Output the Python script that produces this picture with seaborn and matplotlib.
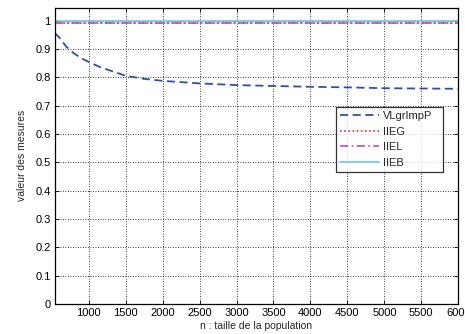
import matplotlib
matplotlib.use("Agg")
import matplotlib.pyplot as plt
import seaborn as sns
import numpy as np

# Data
n_values = [540, 600, 700, 800, 900, 1000, 1150, 1250, 1500, 1750, 2000, 2500,
            3000, 3500, 4000, 4500, 5000, 5500, 6000]
vlgrimpp = [0.957, 0.942, 0.908, 0.885, 0.868, 0.855, 0.837, 0.828, 0.806, 0.795,
            0.788, 0.779, 0.773, 0.770, 0.767, 0.765, 0.762, 0.761, 0.760]
iieg = [0.992] * len(n_values)
iiel = [0.992] * len(n_values)
iieb = [1.0] * len(n_values)

x_ticks = list(range(1000, 6001, 500))
y_ticks = [round(0.1 * i, 1) for i in range(11)]
y_tick_labels = ["0", "0.1", "0.2", "0.3", "0.4", "0.5", "0.6", "0.7", "0.8", "0.9", "1"]

sns.set_style("white")
plt.rcParams['font.family'] = ['Liberation Sans', 'DejaVu Sans']

fig = plt.figure(figsize=(4.65, 3.34), dpi=100)
ax = fig.add_axes([0.1176, 0.0898, 0.868, 0.8877])

sns.lineplot(x=n_values, y=vlgrimpp, ax=ax, color="#2f4fa8", linewidth=1.3,
             label="VLgrImpP")
ax.lines[-1].set_dashes((4.5, 2.5))
sns.lineplot(x=n_values, y=iieg, ax=ax, color="#ff2a2a", linewidth=1.2,
             label="IIEG")
ax.lines[-1].set_dashes((1, 1.5))
sns.lineplot(x=n_values, y=iiel, ax=ax, color="#c04fa8", linewidth=1.2,
             label="IIEL")
ax.lines[-1].set_dashes((5, 2, 1, 2))
sns.lineplot(x=n_values, y=iieb, ax=ax, color="#6cc8e0", linewidth=1.2,
             label="IIEB")

ax.set_xlim(540, 6000)
ax.set_ylim(0, 1.047)
ax.set_xticks(x_ticks)
ax.set_xticklabels([str(t) for t in x_ticks], fontsize=8)
ax.set_yticks(y_ticks)
ax.set_yticklabels(y_tick_labels, fontsize=8)
ax.tick_params(direction="in", length=3, width=0.6, top=True, right=True,
               bottom=True, left=True, pad=3, colors="black")
ax.grid(True, color="black", linestyle=(0, (1, 2)), linewidth=0.6)
for s in ax.spines.values():
    s.set_color("black")
    s.set_linewidth(0.9)

ax.set_xlabel("n : taille de la population", fontsize=7.5, labelpad=2)
ax.set_ylabel("valeur des mesures", fontsize=7.5, labelpad=6)

leg = ax.legend(loc="upper left", bbox_to_anchor=(0.697, 0.432, 0.265, 0.234),
                mode="expand", fontsize=8, frameon=True, fancybox=False,
                handlelength=3.5, handletextpad=0.3, borderaxespad=0,
                labelspacing=0.5, borderpad=0.4)
leg.get_frame().set_edgecolor("black")
leg.get_frame().set_linewidth(0.9)

fig.savefig("out.png", dpi=100)
